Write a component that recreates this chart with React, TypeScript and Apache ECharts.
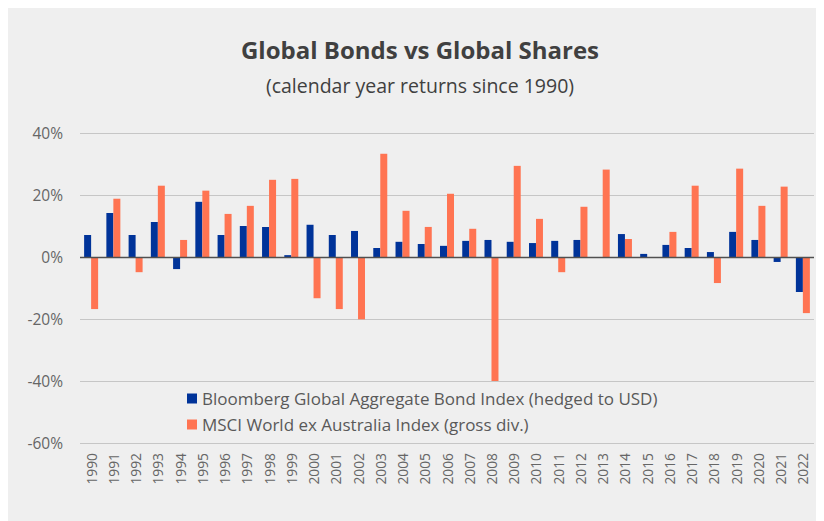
import React, { useEffect, useRef } from "react";
import * as echarts from "echarts";

const years = [
  "1990","1991","1992","1993","1994","1995","1996","1997","1998","1999",
  "2000","2001","2002","2003","2004","2005","2006","2007","2008","2009",
  "2010","2011","2012","2013","2014","2015","2016","2017","2018","2019",
  "2020","2021","2022",
];

const bondReturns = [
  7.1, 14.2, 7.1, 11.3, -3.9, 17.8, 7.1, 10.0, 9.7, 0.6,
  10.4, 7.1, 8.4, 2.9, 4.9, 4.2, 3.6, 5.2, 5.5, 4.9,
  4.5, 5.2, 5.5, -0.1, 7.4, 1.0, 3.9, 2.9, 1.6, 8.1,
  5.5, -1.6, -11.3,
];

const shareReturns = [
  -16.8, 18.8, -4.9, 23.0, 5.5, 21.4, 13.9, 16.5, 24.9, 25.2,
  -13.3, -16.8, -20.1, 33.3, 14.9, 9.7, 20.4, 9.1, -40.0, 29.4,
  12.3, -4.9, 16.2, 28.2, 5.8, 0.0, 8.1, 23.0, -8.4, 28.5,
  16.5, 22.7, -18.1,
];

const seriesNames = [
  "Bloomberg Global Aggregate Bond Index (hedged to USD)",
  "MSCI World ex Australia Index (gross div.)",
];

const FONT = "'Open Sans', 'Noto Sans', sans-serif";

export default function App() {
  const ref = useRef<HTMLDivElement>(null);

  useEffect(() => {
    if (!ref.current) return;
    const chart = echarts.init(ref.current, null, { renderer: "svg" });
    chart.setOption({
      animation: false,
      backgroundColor: "#efefef",
      textStyle: { fontFamily: FONT },
      title: [
        {
          text: "Global Bonds vs Global Shares",
          left: 407,
          top: 24,
          textAlign: "center",
          textStyle: { fontFamily: FONT, fontSize: 24, fontWeight: "bold", color: "#404040" },
        },
        {
          text: "(calendar year returns since 1990)",
          left: 407,
          top: 62,
          textAlign: "center",
          textStyle: { fontFamily: FONT, fontSize: 19.5, fontWeight: "normal", color: "#404040" },
        },
      ],
      legend: {
        orient: "vertical",
        left: 179,
        top: 382,
        padding: 0,
        itemWidth: 10,
        itemHeight: 10,
        itemGap: 9,
        icon: "rect",
        textStyle: { fontFamily: FONT, fontSize: 17, lineHeight: 17, color: "#595959" },
        data: seriesNames,
      },
      grid: { left: 72, top: 125, width: 734, height: 310, containLabel: false },
      xAxis: {
        type: "category",
        data: years,
        position: "bottom",
        axisLine: { show: false, onZero: false },
        axisTick: { show: false },
        axisLabel: {
          rotate: 90,
          margin: 10,
          fontFamily: FONT,
          fontSize: 13.8,
          color: "#666666",
        },
      },
      yAxis: {
        type: "value",
        min: -60,
        max: 40,
        interval: 20,
        axisLine: { show: false },
        axisTick: { show: false },
        axisLabel: {
          formatter: "{value}%",
          margin: 17,
          fontFamily: FONT,
          fontSize: 15.5,
          color: "#666666",
        },
        splitLine: { lineStyle: { color: "#c6c6c6", width: 1 } },
      },
      series: [
        {
          name: seriesNames[0],
          type: "bar",
          data: bondReturns,
          barWidth: 7,
          barGap: "0%",
          itemStyle: { color: "#003399" },
          markLine: {
            silent: true,
            symbol: "none",
            label: { show: false },
            lineStyle: { color: "#505050", width: 1.3, type: "solid" },
            data: [{ yAxis: 0 }],
          },
        },
        {
          name: seriesNames[1],
          type: "bar",
          data: shareReturns,
          barWidth: 7,
          barGap: "0%",
          itemStyle: { color: "#ff7452" },
        },
      ],
    });
    return () => chart.dispose();
  }, []);

  return <div ref={ref} style={{ width: 816, height: 513 }} />;
}
